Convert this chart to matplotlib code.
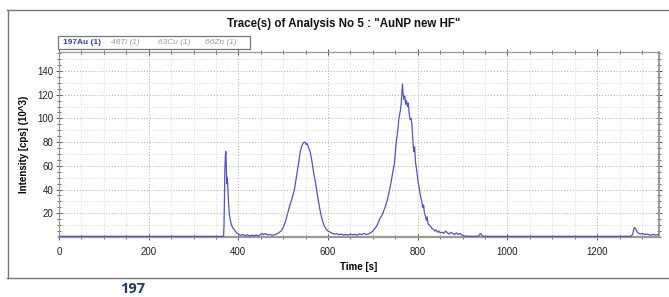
import matplotlib
matplotlib.use("Agg")
import matplotlib.pyplot as plt
from matplotlib.lines import Line2D
from matplotlib.patches import Rectangle
from matplotlib.ticker import MultipleLocator

plt.rcParams['font.family'] = ['Liberation Sans', 'DejaVu Sans']

title = 'Trace(s) of Analysis No 5 : "AuNP new HF"'
legend_labels = ["197Au (1)", "48Ti (1)", "63Cu (1)", "66Zn (1)"]
xlabel = "Time [s]"
ylabel = "Intensity [cps] (10^3)"
caption = "197"

time_s = [0, 100, 200, 300, 365, 367, 368, 369, 370, 371, 372, 373, 374, 375, 376, 377, 378,
          380, 382, 384, 386, 388, 390, 393, 396,
          400, 405, 410, 415, 420, 425, 430, 435, 440, 445, 450, 452, 455, 460, 465, 470, 475,
          480, 485, 490, 495, 500, 505, 510, 515, 520, 525, 530, 535, 538, 541, 544, 547, 549,
          551, 553, 556, 560, 564, 568, 572, 576, 580, 584, 588, 592, 596, 600, 605, 610, 615,
          620, 625, 630, 635, 640, 645, 650, 655, 660, 665, 670, 675, 680, 685,
          690, 695, 700, 704, 708, 712, 716, 720, 724, 728, 732, 736, 740, 744, 748, 752, 755,
          758, 761, 763, 765, 766, 767, 769, 771, 773, 775, 777, 779, 781, 783, 785, 787, 789,
          791, 793, 795, 797, 799, 801, 803, 805, 807, 809, 811, 813, 815, 817, 819, 821, 823,
          826, 829, 832, 835, 838, 841, 844, 847, 850, 854, 858, 862, 866, 870, 874, 878, 882,
          886, 890, 894, 898, 902, 910, 920, 930, 936, 940, 944, 950, 1000, 1100, 1200, 1270,
          1275, 1279, 1282, 1284, 1287, 1290, 1294, 1298, 1302, 1306, 1310, 1315, 1320, 1325,
          1330, 1335, 1340]

au197 = [0.5, 0.5, 0.5, 0.5, 0.5, 0.8, 10, 35, 58, 68, 72, 62, 45, 50, 46, 38, 30,
         19, 14, 11, 9, 7.5, 6.5, 5, 3.5,
         2.5, 1.5, 2, 1.2, 1.8, 1, 1.5, 1.2, 1.6, 1, 2.5, 3, 2, 2.8, 1.8, 2.2, 1.5,
         1.8, 2.5, 3.5, 5, 8, 13, 20, 27, 33, 40, 52, 64, 72, 76, 79, 80, 80,
         78, 79, 76, 72, 64, 54, 46, 36, 27, 19, 13, 9, 6.5, 5, 4, 3, 2.5,
         2.8, 2, 2.4, 1.6, 2.2, 1.5, 2.6, 1.8, 2.3, 1.5, 2.7, 2, 3, 2.2,
         2.5, 3.5, 5, 7, 9, 12, 16, 18, 22, 26, 31, 38, 45, 54, 62, 80, 88,
         100, 106, 112, 124, 129, 122, 116, 119, 112, 115, 110, 113, 104, 99, 100, 95, 82,
         72, 76, 63, 58, 52, 46, 42, 37, 33, 30, 25, 27, 20, 18, 14, 17, 11,
         10, 9, 7, 6.5, 5, 6, 4, 5, 3.5, 4, 3, 5, 3.5, 2.5, 4, 3, 2,
         3.5, 2, 3, 1.8, 1, 0.6, 0.6, 0.6, 0.8, 3, 0.8, 0.5, 0.5, 0.5, 0.5, 0.5,
         0.6, 2, 7, 8, 6, 4, 3, 2.5, 3, 2, 2.5, 2, 1.5, 2.2,
         1.5, 2, 1.5]

x_ticks = [0, 200, 400, 600, 800, 1000, 1200]
y_ticks = [20, 40, 60, 80, 100, 120, 140]

W, H = 669, 297
fig = plt.figure(figsize=(W / 100, H / 100), dpi=100)
fig.patch.set_facecolor("white")

def fx(px):
    return px / W

def fy(py):
    return 1 - py / H

ax = fig.add_axes([fx(59), fy(237), fx(659) - fx(59), fy(52) - fy(237)])
ax.plot(time_s, au197, color="#5252c4", lw=0.9, zorder=3)
ax.set_xlim(0, 1338)
ax.set_ylim(0, 156)
ax.set_xticks(x_ticks)
ax.set_yticks(y_ticks)
ax.xaxis.set_minor_locator(MultipleLocator(50))
ax.yaxis.set_minor_locator(MultipleLocator(5))
ax.tick_params(axis="both", which="major", labelsize=7, direction="inout", length=4,
               width=0.7, color="#555555", labelcolor="#222222", top=True, right=True, pad=2)
ax.tick_params(axis="both", which="minor", direction="inout", length=2.5, width=0.6,
               color="#555555", top=True, right=True)
ax.tick_params(axis="x", which="major", pad=5)
ax.set_xticklabels([str(v) for v in x_ticks])
ax.grid(which="major", linestyle=(0, (1, 2)), color="#aaaaaa", lw=0.7)
ax.set_axisbelow(True)
# minor grid: every 50 in x, every 10 in y
for xv in range(50, 1338, 50):
    if xv % 200:
        ax.axvline(xv, color="#d0d0d0", lw=0.6, linestyle=(0, (1, 2)), zorder=0)
for yv in range(10, 156, 10):
    if yv % 20:
        ax.axhline(yv, color="#d0d0d0", lw=0.6, linestyle=(0, (1, 2)), zorder=0)
for s in ["top", "right", "left"]:
    ax.spines[s].set_color("#999999")
    ax.spines[s].set_linewidth(0.9)
ax.spines["bottom"].set_color("#999999")
ax.spines["bottom"].set_linewidth(1.6)
ax.spines["right"].set_linewidth(1.4)

ax.set_xlabel(xlabel, fontsize=7, fontweight="bold", labelpad=4)
ax.set_ylabel(ylabel, fontsize=7, fontweight="bold", labelpad=6)

fig.text(fx(344), fy(24), title, ha="center", va="center", fontsize=8.3, fontweight="bold",
         color="#111111")

# legend box
fig.add_artist(Rectangle((fx(58), fy(49)), fx(250) - fx(58), fy(36) - fy(49),
                         transform=fig.transFigure, fill=False, edgecolor="#777777", lw=0.9))
leg_x = [63, 111, 158, 205]
leg_colors = ["#3a3ab0", "#9a9a9a", "#9a9a9a", "#9a9a9a"]
leg_styles = ["normal", "italic", "italic", "italic"]
leg_weights = ["semibold", "normal", "normal", "normal"]
for lx, lab, c, st, wt in zip(leg_x, legend_labels, leg_colors, leg_styles, leg_weights):
    fig.text(fx(lx), fy(42.5), lab, ha="left", va="center", fontsize=6, color=c, style=st,
             fontweight=wt)

# outer frame
frame_c = "#777777"
fig.add_artist(Line2D([fx(7), fx(669)], [fy(10), fy(10)], transform=fig.transFigure,
                      color=frame_c, lw=1))
fig.add_artist(Line2D([fx(7), fx(669)], [fy(278), fy(278)], transform=fig.transFigure,
                      color=frame_c, lw=1))
fig.add_artist(Line2D([fx(7.5), fx(7.5)], [fy(10), fy(278)], transform=fig.transFigure,
                      color=frame_c, lw=1))

fig.text(fx(133), fy(289), caption, ha="center", va="center", fontsize=10.5,
         fontweight="bold", color="#1f3b66", family="Open Sans")

fig.savefig("out.png", dpi=100)
